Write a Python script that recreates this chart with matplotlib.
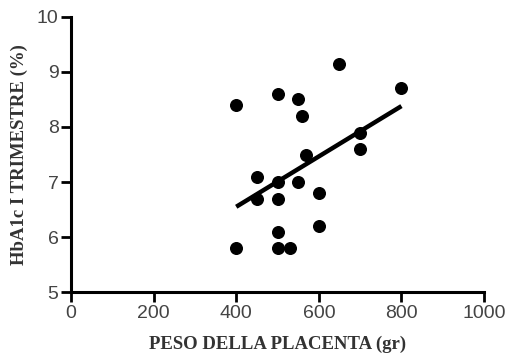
import matplotlib
matplotlib.use("Agg")
import matplotlib.pyplot as plt

# placenta weight (gr) vs HbA1c first trimester (%)
peso = [400, 400, 450, 450, 500, 500, 500, 500, 500, 530,
        550, 550, 560, 570, 600, 600, 650, 700, 700, 800]
hba1c = [8.4, 5.8, 7.1, 6.7, 8.6, 7.0, 6.7, 6.1, 5.8, 5.8,
         8.5, 7.0, 8.2, 7.5, 6.8, 6.2, 9.15, 7.9, 7.6, 8.7]

# regression line end points
fit_x = [400, 800]
fit_y = [6.55, 8.38]

xticks = [0, 200, 400, 600, 800, 1000]
yticks = [5, 6, 7, 8, 9, 10]

fig = plt.figure(figsize=(5.09, 3.61), dpi=100)
ax = fig.add_axes([0.1395, 0.191, 0.8115, 0.762])

ax.scatter(peso, hba1c, s=70, color="black", zorder=3, clip_on=False)
ax.plot(fit_x, fit_y, color="black", lw=3.2, solid_capstyle="butt")

ax.set_xlim(0, 1000)
ax.set_ylim(5, 10)
ax.set_xticks(xticks)
ax.set_yticks(yticks)

for s in ["top", "right"]:
    ax.spines[s].set_visible(False)
for s in ["left", "bottom"]:
    ax.spines[s].set_linewidth(2.2)

ax.tick_params(width=2, length=7, labelsize=14, colors="black", pad=2)
for lab in ax.get_xticklabels() + ax.get_yticklabels():
    lab.set_family("Liberation Sans")
    lab.set_color("#444444")

ax.set_xlabel("PESO DELLA PLACENTA (gr)", family="Liberation Serif",
              weight="bold", fontsize=13.5, color="#333333", labelpad=10)
ax.set_ylabel("HbA1c I TRIMESTRE (%)", family="Liberation Serif",
              weight="bold", fontsize=13.5, color="#333333", labelpad=6)

fig.savefig("out.png", dpi=100)
